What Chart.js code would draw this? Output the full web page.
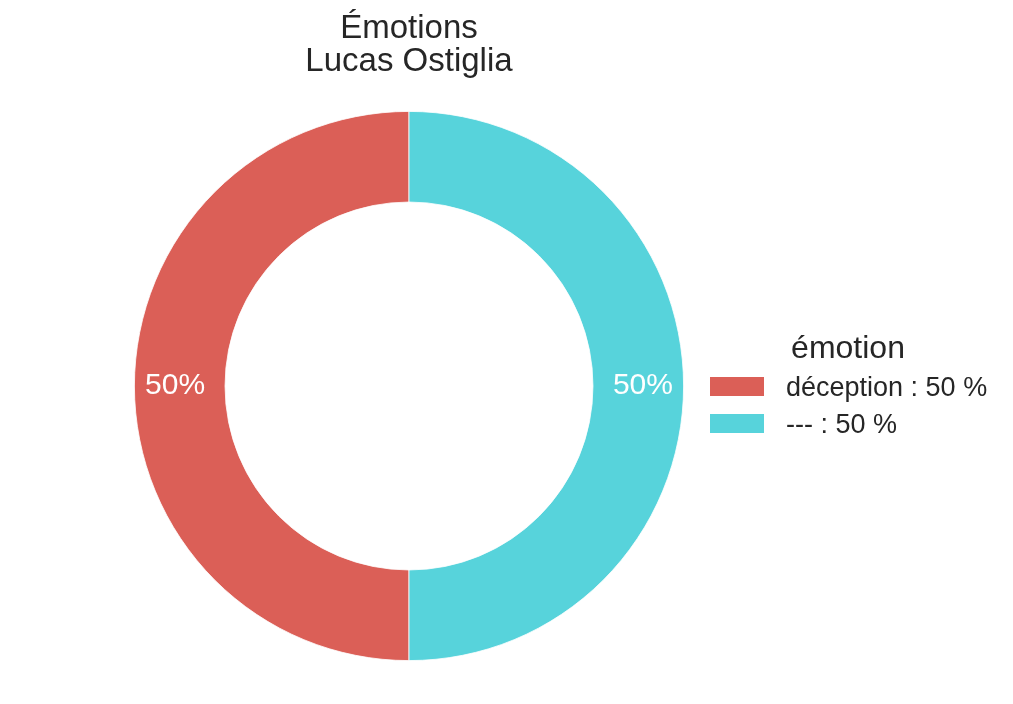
<!DOCTYPE html>
<html>
<head>
<meta charset="utf-8">
<script src="https://cdn.jsdelivr.net/npm/chart.js@4/dist/chart.umd.min.js"></script>
<style>
  html, body { margin: 0; padding: 0; background: #fff; }
  #wrap { width: 1013px; height: 704px; position: relative; }
</style>
</head>
<body>
<div id="wrap"><canvas id="myChart" width="1013" height="704"></canvas></div>
<script>
// data
const emotions = ['déception', '---'];
const valeurs = [50, 50];
const couleurs = ['#db5f57', '#57d3db'];
const titreLignes = ['Émotions', 'Lucas Ostiglia'];
const titreLegende = 'émotion';

const police = '"Liberation Sans", Arial, sans-serif';
const total = valeurs.reduce((a, b) => a + b, 0);

// pourcentages sur l'anneau + titre + légende
const textesPlugin = {
  id: 'textes',
  afterDraw(chart) {
    const ctx = chart.ctx;
    const meta = chart.getDatasetMeta(0);
    ctx.save();

    // pourcentages
    ctx.fillStyle = '#ffffff';
    ctx.font = '30px ' + police;
    ctx.textAlign = 'center';
    ctx.textBaseline = 'middle';
    meta.data.forEach((arc, i) => {
      const p = arc.getProps(['x', 'y', 'startAngle', 'endAngle', 'outerRadius'], true);
      const mid = (p.startAngle + p.endAngle) / 2;
      const r = p.outerRadius * 0.852;
      const pct = Math.round(valeurs[i] / total * 100) + '%';
      ctx.fillText(pct, p.x + Math.cos(mid) * r, p.y + Math.sin(mid) * r);
    });

    // titre
    const cx = (chart.chartArea.left + chart.chartArea.right) / 2;
    ctx.fillStyle = '#262626';
    ctx.font = '33px ' + police;
    ctx.textBaseline = 'alphabetic';
    ctx.fillText(titreLignes[0], cx, 38);
    ctx.fillText(titreLignes[1], cx, 71);

    // légende
    ctx.font = '32px ' + police;
    ctx.fillText(titreLegende, 848, 358);
    ctx.textAlign = 'left';
    ctx.font = '27px ' + police;
    emotions.forEach((lab, i) => {
      const y = 377 + i * 37;
      ctx.fillStyle = couleurs[i];
      ctx.fillRect(710, y, 54, 19);
      ctx.fillStyle = '#262626';
      ctx.fillText(lab + ' : ' + Math.round(valeurs[i] / total * 100) + ' %', 786, y + 19);
    });
    ctx.restore();
  }
};

new Chart(document.getElementById('myChart'), {
  type: 'doughnut',
  data: {
    labels: emotions,
    datasets: [{
      data: valeurs,
      backgroundColor: couleurs,
      borderColor: '#ffffff',
      borderWidth: 0.8
    }]
  },
  options: {
    responsive: false,
    animation: false,
    rotation: 180,
    cutout: '67%',
    layout: { padding: { left: 134, right: 329, top: 111, bottom: 43 } },
    plugins: {
      legend: { display: false },
      title: { display: false },
      tooltip: { enabled: false }
    }
  },
  plugins: [textesPlugin]
});
</script>
</body>
</html>
